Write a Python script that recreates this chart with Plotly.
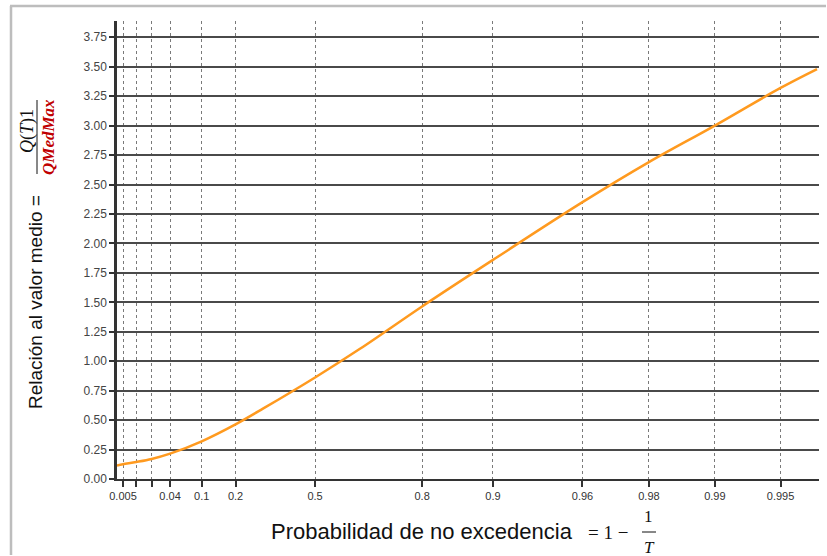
import numpy as np
import plotly.graph_objects as go

# Non-exceedance probability and ratio to the mean annual maximum flow
prob = [0.00353, 0.005, 0.01, 0.02, 0.04, 0.1, 0.2, 0.3, 0.5, 0.65, 0.8, 0.9,
        0.96, 0.98, 0.99, 0.995, 0.9966]
ratio = [0.115, 0.125, 0.144, 0.17, 0.215, 0.32, 0.464, 0.597, 0.862, 1.105, 1.465,
         1.86, 2.35, 2.69, 3.0, 3.32, 3.48]

# Probability-paper ticks
tick_prob = [0.005, 0.01, 0.02, 0.04, 0.1, 0.2, 0.5, 0.8, 0.9, 0.96, 0.98, 0.99, 0.995]
tick_text = ["0.005", "", "", "0.04", "0.1", "0.2", "0.5", "0.8", "0.9", "0.96",
             "0.98", "0.99", "0.995"]
x_bounds = [0.00353, 0.99667]
y_bounds = [0.0, 3.888]


def gumbel(p):
    """Gumbel reduced variate used as the probability-paper scale."""
    return -np.log(-np.log(np.asarray(p, dtype=float)))


W, H = 827, 556
ML, MR, MT, MB = 117, 8, 21, 77
PW, PH = W - ML - MR, H - MT - MB


def px(x):
    return (x - ML) / PW


def py(y):
    return (H - MB - y) / PH


fig = go.Figure()
fig.add_trace(go.Scatter(
    x=gumbel(prob), y=ratio, mode="lines",
    line=dict(color="#FF9A1F", width=2.5, shape="spline", smoothing=1.0),
    showlegend=False, hoverinfo="skip",
))

fig.update_layout(
    width=W, height=H,
    margin=dict(l=ML, r=MR, t=MT, b=MB),
    paper_bgcolor="white", plot_bgcolor="white",
    font=dict(family="Arial, Liberation Sans, sans-serif", color="#333"),
    showlegend=False,
)

fig.update_xaxes(
    range=list(gumbel(x_bounds)),
    tickmode="array", tickvals=list(gumbel(tick_prob)), ticktext=tick_text,
    tickfont=dict(size=11, color="#333"),
    ticks="outside", ticklen=6, tickwidth=1.5, tickcolor="#333",
    showgrid=True, gridcolor="#7a7a7a", gridwidth=1, griddash="dot",
    showline=True, linecolor="#333", linewidth=2,
    zeroline=False,
)
fig.update_yaxes(
    range=y_bounds, dtick=0.25, tick0=0, tickformat=".2f",
    tickfont=dict(size=12, color="#444"),
    ticks="outside", ticklen=5, tickwidth=1.5, tickcolor="#333",
    showgrid=True, gridcolor="#4a4a4a", gridwidth=2,
    showline=True, linecolor="#333", linewidth=2.5,
    zeroline=False,
)

serif = "Liberation Serif, Times New Roman, serif"
ann = []
# X-axis title with the 1 - 1/T expression
ann.append(dict(text="Probabilidad de no excedencia", x=px(421.5), y=py(531),
                font=dict(size=22, color="#111")))
ann.append(dict(text="= 1 −", x=px(586), y=py(532), xanchor="left",
                font=dict(size=19, family=serif, color="#111")))
ann.append(dict(text="1", x=px(648.5), y=py(516),
                font=dict(size=17, family=serif, color="#111")))
ann.append(dict(text="<i>T</i>", x=px(649), y=py(547),
                font=dict(size=17, family=serif, color="#111")))
# Y-axis title with the Q(T)/QMedMax fraction
ann.append(dict(text="Relación al valor medio =", x=px(35), y=py(302),
                textangle=-90, font=dict(size=19, color="#111")))
ann.append(dict(text="<i>Q</i>(<i>T</i>)1", x=px(27), y=py(131),
                textangle=-90, font=dict(size=18, family=serif, color="#111")))
ann.append(dict(text="<b><i>QMedMax</i></b>", x=px(48), y=py(137),
                textangle=-90, font=dict(size=17, family=serif, color="#C00000")))
for a in ann:
    a.setdefault("xanchor", "center")
    a.update(xref="paper", yref="paper", yanchor="middle", showarrow=False)
fig.update_layout(annotations=ann)

shapes = [
    # fraction bars
    dict(type="line", xref="paper", yref="paper",
         x0=px(642), x1=px(656), y0=py(532), y1=py(532),
         line=dict(color="#111", width=1)),
    dict(type="line", xref="paper", yref="paper",
         x0=px(37), x1=px(37), y0=py(100), y1=py(174),
         line=dict(color="#111", width=1)),
    # outer frame
    dict(type="line", xref="paper", yref="paper",
         x0=px(11), x1=px(11), y0=py(6), y1=py(H - 1),
         line=dict(color="#bdbdbd", width=2.5)),
    dict(type="line", xref="paper", yref="paper",
         x0=px(10), x1=px(W - 1), y0=py(6), y1=py(6),
         line=dict(color="#bdbdbd", width=2.5)),
]
fig.update_layout(shapes=shapes)

fig.write_html("out.html")
